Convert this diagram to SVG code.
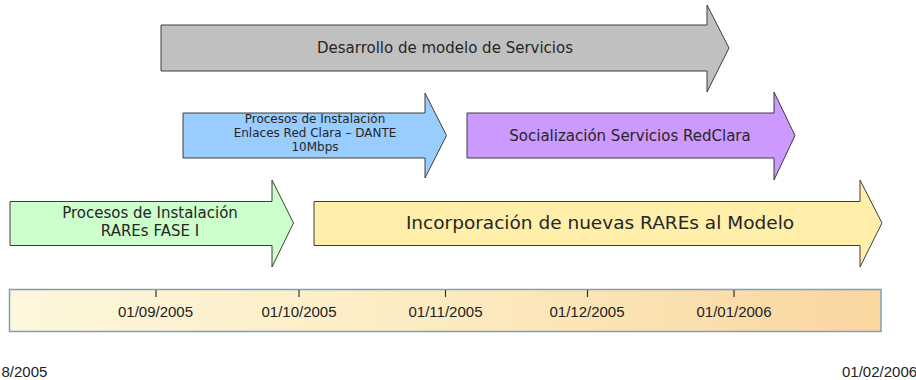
<svg xmlns="http://www.w3.org/2000/svg" width="916" height="380" viewBox="0 0 916 380">
  <defs>
    <linearGradient id="barGrad" x1="0" y1="0" x2="1" y2="0">
      <stop offset="0" stop-color="#fdf7dc"/>
      <stop offset="0.5" stop-color="#fcebc0"/>
      <stop offset="1" stop-color="#fad6a0"/>
    </linearGradient>
  </defs>
  <style>
    .arrow { stroke: #3c3c3c; stroke-width: 1; stroke-linejoin: miter; }
    .lbl { font-family: "DejaVu Sans", Verdana, sans-serif; fill: #262626; text-anchor: middle; }
    .date { font-family: "Liberation Sans", Arial, sans-serif; font-size: 15px; fill: #222; text-anchor: middle; }
    .edge { font-family: "Liberation Sans", Arial, sans-serif; font-size: 15px; fill: #222; }
    .tick { stroke: #333; stroke-width: 1.2; }
  </style>
  <rect width="916" height="380" fill="#ffffff"/>

  <g id="arrow-desarrollo">
    <polygon class="arrow" fill="#c0c0c0" points="161,25 707,25 707,5 729,48 707,92 707,71 161,71"/>
    <text class="lbl" x="445" y="53" font-size="15">Desarrollo de modelo de Servicios</text>
  </g>

  <g id="arrow-enlaces">
    <polygon class="arrow" fill="#99ccff" points="183,113 425,113 425,93 446.5,135.5 425,178 425,158 183,158"/>
    <text class="lbl" x="315" y="123" font-size="12">Procesos de Instalación</text>
    <text class="lbl" x="315" y="137" font-size="12">Enlaces Red Clara – DANTE</text>
    <text class="lbl" x="315" y="150.5" font-size="12">10Mbps</text>
  </g>

  <g id="arrow-socializacion">
    <polygon class="arrow" fill="#cc99ff" points="467,113 774,113 774,92 795,135.5 774,180 774,158 467,158"/>
    <text class="lbl" x="630" y="141" font-size="15">Socialización Servicios RedClara</text>
  </g>

  <g id="arrow-fase1">
    <polygon class="arrow" fill="#ccffcc" points="10,201.5 272,201.5 272,180 293.5,223 272,267 272,245.5 10,245.5"/>
    <text class="lbl" x="150" y="218" font-size="15">Procesos de Instalación</text>
    <text class="lbl" x="150" y="236" font-size="15">RAREs FASE I</text>
  </g>

  <g id="arrow-incorporacion">
    <polygon class="arrow" fill="#ffefaa" points="314,201.5 860,201.5 860,180 882,223 860,267 860,245.5 314,245.5"/>
    <text class="lbl" x="600" y="229" font-size="18.5">Incorporación de nuevas RAREs al Modelo</text>
  </g>

  <g id="timeline">
    <rect x="9.5" y="289.5" width="871.5" height="42" fill="url(#barGrad)" stroke="#7d9fbd" stroke-width="1.5"/>
    <line class="tick" x1="156" y1="290" x2="156" y2="297"/>
    <line class="tick" x1="299" y1="290" x2="299" y2="297"/>
    <line class="tick" x1="445.5" y1="290" x2="445.5" y2="297"/>
    <line class="tick" x1="587.5" y1="290" x2="587.5" y2="297"/>
    <line class="tick" x1="734" y1="290" x2="734" y2="297"/>
    <text class="date" x="155.5" y="317">01/09/2005</text>
    <text class="date" x="299" y="317">01/10/2005</text>
    <text class="date" x="445.5" y="317">01/11/2005</text>
    <text class="date" x="587" y="317">01/12/2005</text>
    <text class="date" x="734" y="317">01/01/2006</text>
    <text class="edge" x="1.5" y="377">8/2005</text>
    <text class="edge" x="842" y="377">01/02/2006</text>
  </g>
</svg>
